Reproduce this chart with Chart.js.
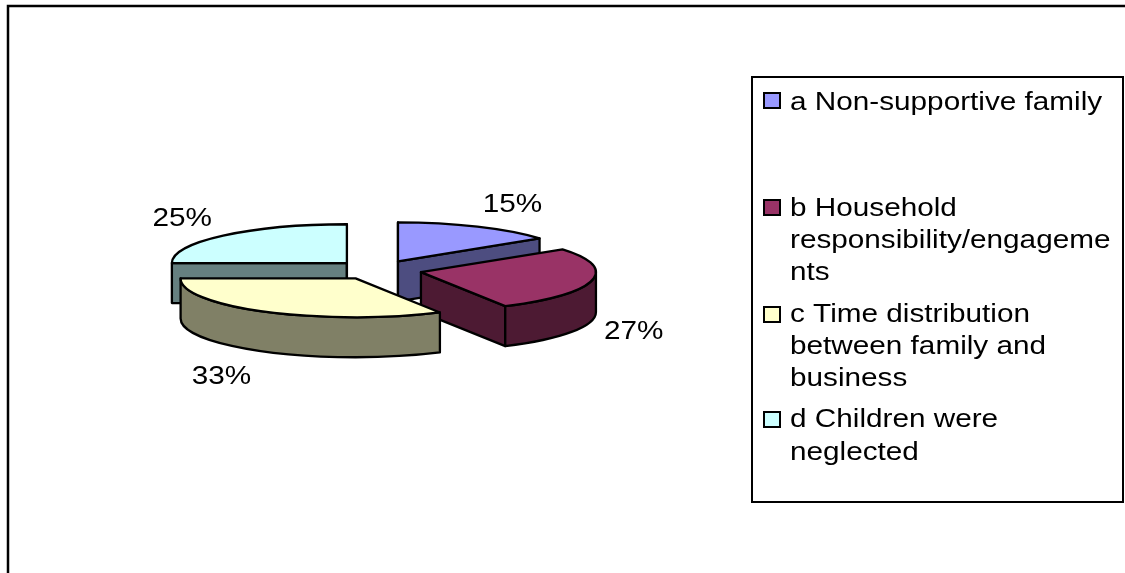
<!DOCTYPE html>
<html>
<head>
<meta charset="utf-8">
<script src="https://cdn.jsdelivr.net/npm/chart.js@4"></script>
<style>
  html, body { margin: 0; padding: 0; background: #fff; }
  canvas { display: block; }
</style>
</head>
<body>
<canvas id="chart" width="1125" height="573"></canvas>
<script>
// Reasons reported, as shares of respondents
const categories = ["a Non-supportive family", "b Household responsibility/engagements", "c Time distribution between family and business", "d Children were neglected"];
const shares = [15, 27, 33, 25];
const topColors = ["#9999FF", "#993366", "#FFFFCC", "#CCFFFF"];
const wallColors = ["#4D4D80", "#4D1A33", "#808066", "#668080"];
const legendLines = [
  ["a Non-supportive family"],
  ["b Household", "responsibility/engageme", "nts"],
  ["c Time distribution", "between family and", "business"],
  ["d Children were", "neglected"]
];

// Oblique pie geometry
const pieCentreX = 378, pieCentreY = 270, pieRadius = 175;
const tilt = 0.222, wallDepth = 40, explode = 44;
const textStretch = 1.143;
const fontFace = '26px "Liberation Sans", Arial, sans-serif';
const edgeWidth = 2.3;

// Where each percentage sits relative to its slice's rim point
const labelShift = [[35, -22], [42, 51], [-45, 65], [-41, -17]];
// Top of each legend entry's swatch, and the baseline of each of its lines
const legendSwatchTop = [93, 200, 307, 412];
const legendBaselines = [[110], [216, 248, 280], [322, 354, 386], [427, 460]];

const toScreenY = y => pieCentreY + (y - pieCentreY) * tilt;
const midAngle = a => (a.startAngle + a.endAngle) / 2;

function rimPoint(arc, angle) {
  return [arc.x + pieRadius * Math.cos(angle), toScreenY(arc.y + pieRadius * Math.sin(angle))];
}

function stretchedText(ctx, text, x, y) {
  ctx.save();
  ctx.translate(x, y);
  ctx.scale(textStretch, 1);
  ctx.fillText(text, 0, 0);
  ctx.restore();
}

function radialWall(ctx, arc, angle) {
  const cy = toScreenY(arc.y);
  const [px, py] = rimPoint(arc, angle);
  ctx.beginPath();
  ctx.moveTo(arc.x, cy);
  ctx.lineTo(px, py);
  ctx.lineTo(px, py + wallDepth);
  ctx.lineTo(arc.x, cy + wallDepth);
  ctx.closePath();
  ctx.fill();
  ctx.stroke();
}

function rimWall(ctx, arc, from, to) {
  const cy = toScreenY(arc.y), ry = pieRadius * tilt;
  ctx.beginPath();
  ctx.ellipse(arc.x, cy, pieRadius, ry, 0, from, to);
  ctx.ellipse(arc.x, cy + wallDepth, pieRadius, ry, 0, to, from, true);
  ctx.closePath();
  ctx.fill();
  ctx.stroke();
}

const obliquePie = {
  id: "obliquePie",
  // Pull every slice away from the centre along its middle angle
  afterDatasetsUpdate(chart) {
    chart.getDatasetMeta(0).data.forEach(arc => {
      const mid = midAngle(arc);
      arc.x += explode * Math.cos(mid);
      arc.y += explode * Math.sin(mid);
    });
  },
  // Side walls first, back to front, then flatten the canvas for the top faces
  beforeDatasetsDraw(chart) {
    const ctx = chart.ctx;
    const arcs = chart.getDatasetMeta(0).data;
    ctx.save();
    ctx.strokeStyle = "#000";
    ctx.lineWidth = edgeWidth;
    ctx.lineJoin = "round";
    [3, 0, 1, 2].forEach(i => {
      const arc = arcs[i];
      ctx.fillStyle = wallColors[i];
      if (-Math.cos(arc.startAngle) > -1e-6) radialWall(ctx, arc, arc.startAngle);
      if (Math.cos(arc.endAngle) > -1e-6) radialWall(ctx, arc, arc.endAngle);
      const from = Math.max(arc.startAngle, 0);
      const to = Math.min(arc.endAngle, Math.PI);
      if (to > from) rimWall(ctx, arc, from, to);
    });
    ctx.restore();
    ctx.save();
    ctx.translate(0, pieCentreY);
    ctx.scale(1, tilt);
    ctx.translate(0, -pieCentreY);
  },
  afterDatasetsDraw(chart) {
    const ctx = chart.ctx;
    ctx.restore();
    const arcs = chart.getDatasetMeta(0).data;

    // Outlines of the top faces, at an even line width
    ctx.save();
    ctx.strokeStyle = "#000";
    ctx.lineWidth = edgeWidth;
    ctx.lineJoin = "round";
    arcs.forEach(arc => {
      ctx.beginPath();
      ctx.moveTo(arc.x, toScreenY(arc.y));
      ctx.ellipse(arc.x, toScreenY(arc.y), pieRadius, pieRadius * tilt, 0, arc.startAngle, arc.endAngle);
      ctx.closePath();
      ctx.stroke();
    });
    ctx.restore();

    // Percentages
    ctx.save();
    ctx.font = fontFace;
    ctx.fillStyle = "#000";
    ctx.textAlign = "center";
    ctx.textBaseline = "middle";
    arcs.forEach((arc, i) => {
      const [px, py] = rimPoint(arc, midAngle(arc));
      stretchedText(ctx, shares[i] + "%", px + labelShift[i][0], py + labelShift[i][1]);
    });
    ctx.restore();
  },
  // Outer frame and legend panel
  afterDraw(chart) {
    const ctx = chart.ctx;
    ctx.save();
    ctx.strokeStyle = "#000";
    ctx.lineWidth = 2.5;
    ctx.beginPath();
    ctx.moveTo(8, 580);
    ctx.lineTo(8, 6);
    ctx.lineTo(1130, 6);
    ctx.stroke();

    ctx.lineWidth = 2;
    ctx.strokeRect(752, 77, 371, 425);

    ctx.font = fontFace;
    ctx.textAlign = "left";
    ctx.textBaseline = "alphabetic";
    legendLines.forEach((lines, i) => {
      ctx.fillStyle = topColors[i];
      ctx.fillRect(764, legendSwatchTop[i], 16, 15);
      ctx.strokeStyle = "#000";
      ctx.lineWidth = 2;
      ctx.strokeRect(764, legendSwatchTop[i], 16, 15);
      ctx.fillStyle = "#000";
      lines.forEach((line, j) => stretchedText(ctx, line, 790, legendBaselines[i][j]));
    });
    ctx.restore();
  }
};

new Chart(document.getElementById("chart"), {
  type: "pie",
  data: {
    labels: categories,
    datasets: [{
      data: shares,
      backgroundColor: topColors,
      borderWidth: 0,
      hoverOffset: 0
    }]
  },
  options: {
    responsive: false,
    animation: false,
    events: [],
    radius: pieRadius,
    layout: {
      autoPadding: false,
      padding: {
        left: pieCentreX - pieRadius,
        right: 1125 - pieCentreX - pieRadius,
        top: pieCentreY - pieRadius,
        bottom: 573 - pieCentreY - pieRadius
      }
    },
    plugins: {
      legend: { display: false },
      tooltip: { enabled: false },
      title: { display: false }
    }
  },
  plugins: [obliquePie]
});
</script>
</body>
</html>
